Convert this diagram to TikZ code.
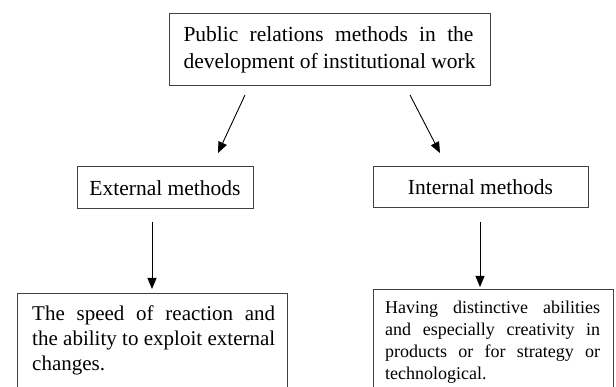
\documentclass[tikz,border=0pt]{standalone}
\usepackage{fontspec}
\setmainfont{Liberation Serif}
\usetikzlibrary{arrows.meta}
\begin{document}
\begin{tikzpicture}[x=1pt,y=-1pt,
  boxnode/.style={draw=black!75, line width=1pt, inner sep=0pt, align=left},
  txt/.style={inner sep=0pt, align=left, anchor=north west},
  arr/.style={draw=black, line width=0.9pt, -{Triangle[length=11pt,width=9pt]}},
  bigfont/.style={font=\fontsize{21.5}{27}\selectfont},
]
\clip (0,0) rectangle (616,387);
\fill[white] (0,0) rectangle (616,387);
\node[boxnode, bigfont, minimum width=321pt, minimum height=72pt] (top) at (329.5,50)
  {\makebox[290pt][s]{Public relations methods in the}\\development of institutional work};
\node[boxnode, bigfont, minimum width=176pt, minimum height=42pt] (ext) at (165,188) {External methods};
\node[boxnode, bigfont, minimum width=215pt, minimum height=41pt] (int) at (480.5,187.5) {Internal methods};
\node[boxnode, anchor=north west, minimum width=270pt, minimum height=140pt] (bl) at (17,293) {};
\node[txt, font=\fontsize{21}{25}\selectfont] (bltext) at (32,305.5)
  {\makebox[243pt][s]{The speed of reaction and}\\\makebox[243pt][s]{the ability to exploit external}\\changes.};
\node[boxnode, anchor=north west, minimum width=240pt, minimum height=140pt] (br) at (373,289) {};
\node[txt, font=\fontsize{18}{22}\selectfont] (brtext) at (385,300.7)
  {\makebox[215pt][s]{Having distinctive abilities}\\\makebox[215pt][s]{and especially creativity in}\\\makebox[215pt][s]{products or for strategy or}\\technological.};
\coordinate (l1) at (245,95);
\coordinate (l2) at (218,153);
\coordinate (r1) at (410,95);
\coordinate (r2) at (440,153);
\coordinate (v1) at (152,222);
\coordinate (v2) at (152,289);
\coordinate (w1) at (480,222);
\coordinate (w2) at (480,287);
\draw[arr] (l1) -- (l2);
\draw[arr] (r1) -- (r2);
\draw[arr] (v1) -- (v2);
\draw[arr] (w1) -- (w2);
\end{tikzpicture}
\end{document}
